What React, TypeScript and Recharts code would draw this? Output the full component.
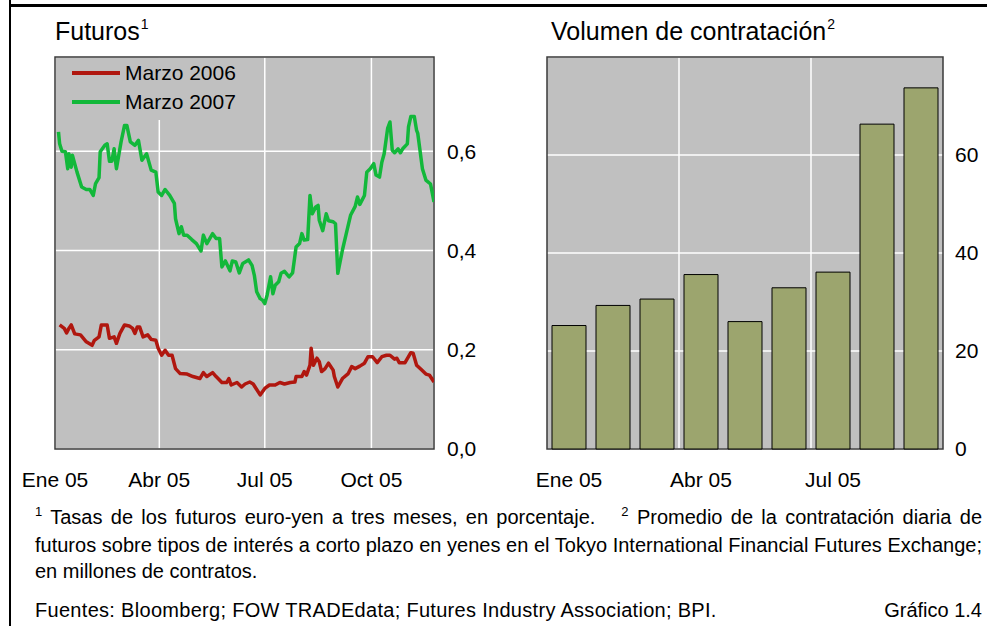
import {
  Bar,
  BarChart,
  CartesianGrid,
  Legend,
  Line,
  LineChart,
  ReferenceArea,
  XAxis,
  YAxis,
} from "recharts";

const FONT = '"Liberation Sans", Arial, Helvetica, sans-serif';
const PLOT_BG = "#c0c0c0";
const FRAME = "#3a3a3a";
const RED = "#b0170f";
const GREEN = "#12b83a";
const BAR_FILL = "#9ca56e";

// ---------------------------------------------------------------------------
// Futuros: tasas euro-yen a tres meses (x = días desde el 1 ene 2005)
// ---------------------------------------------------------------------------

const marzo2006Dias = [
  4, 8, 10, 12, 14, 17, 22, 27, 32, 34, 38, 40, 45, 47, 51, 53, 56, 60, 64, 67,
  69, 71, 73, 76, 80, 83, 87, 89, 92, 95, 98, 101, 104, 108, 114, 119, 125, 128, 131, 136,
  139, 144, 148, 150, 152, 157, 161, 164, 168, 171, 177, 181, 185, 190, 194, 198, 203, 207, 208, 213,
  215, 217, 220, 221, 223, 226, 228, 230, 233, 236, 240, 241, 244, 248, 253, 256, 259, 263, 267, 270,
  274, 278, 282, 286, 289, 293, 295, 297, 302, 305, 307, 309, 312, 316, 320, 323, 327,
];
const marzo2006Tasas = [
  0.25, 0.243, 0.234, 0.243, 0.25, 0.232, 0.23, 0.216, 0.209, 0.219, 0.226, 0.25, 0.25, 0.223, 0.226, 0.213, 0.233, 0.25, 0.248, 0.243,
  0.233, 0.246, 0.246, 0.226, 0.23, 0.221, 0.219, 0.203, 0.189, 0.199, 0.189, 0.189, 0.162, 0.152, 0.151, 0.146, 0.142, 0.154, 0.146, 0.154,
  0.146, 0.134, 0.134, 0.142, 0.129, 0.134, 0.125, 0.131, 0.135, 0.131, 0.109, 0.122, 0.129, 0.129, 0.134, 0.131, 0.134, 0.135, 0.146, 0.146,
  0.156, 0.149, 0.169, 0.203, 0.169, 0.183, 0.176, 0.156, 0.162, 0.173, 0.159, 0.146, 0.125, 0.142, 0.152, 0.166, 0.162, 0.167, 0.173, 0.186,
  0.186, 0.174, 0.186, 0.189, 0.189, 0.181, 0.183, 0.174, 0.174, 0.186, 0.194, 0.193, 0.169, 0.16, 0.151, 0.149, 0.135,
];

const marzo2007Dias = [
  3, 4, 6, 9, 11, 12, 14, 15, 19, 23, 27, 30, 33, 35, 38, 39, 43, 45, 47, 49,
  51, 53, 57, 60, 62, 65, 69, 72, 75, 79, 83, 87, 89, 92, 95, 99, 103, 104, 107, 109,
  111, 114, 118, 122, 126, 128, 131, 136, 139, 142, 144, 147, 151, 153, 156, 159, 162, 167, 170, 172,
  174, 177, 179, 181, 183, 186, 188, 190, 193, 195, 198, 202, 205, 208, 211, 213, 215, 218, 220, 222,
  225, 227, 228, 231, 234, 236, 240, 242, 244, 248, 251, 255, 259, 261, 263, 267, 269, 272, 275, 277,
  280, 282, 284, 287, 289, 291, 293, 296, 298, 300, 304, 305, 307, 310, 312, 313, 317, 320, 324, 327,
];
const marzo2007Tasas = [
  0.639, 0.615, 0.6, 0.599, 0.565, 0.595, 0.568, 0.592, 0.558, 0.528, 0.523, 0.523, 0.511, 0.535, 0.547, 0.599, 0.612, 0.615, 0.58, 0.58,
  0.605, 0.565, 0.619, 0.652, 0.652, 0.619, 0.612, 0.622, 0.582, 0.595, 0.562, 0.558, 0.518, 0.511, 0.523, 0.511, 0.495, 0.464, 0.434, 0.448,
  0.431, 0.431, 0.422, 0.414, 0.399, 0.431, 0.414, 0.434, 0.424, 0.424, 0.367, 0.379, 0.359, 0.379, 0.377, 0.355, 0.374, 0.381, 0.37, 0.35,
  0.317, 0.303, 0.3, 0.293, 0.31, 0.347, 0.313, 0.33, 0.337, 0.354, 0.358, 0.347, 0.355, 0.407, 0.414, 0.434, 0.421, 0.422, 0.511, 0.474,
  0.488, 0.491, 0.461, 0.44, 0.474, 0.46, 0.458, 0.454, 0.354, 0.401, 0.431, 0.471, 0.489, 0.508, 0.493, 0.511, 0.558, 0.565, 0.575, 0.552,
  0.548, 0.578, 0.595, 0.646, 0.659, 0.602, 0.597, 0.605, 0.597, 0.605, 0.615, 0.649, 0.67, 0.67, 0.642, 0.636, 0.565, 0.542, 0.534, 0.498,
];

const futurosXTicks = [0, 90, 181, 273];
const futurosXLabels = ["Ene 05", "Abr 05", "Jul 05", "Oct 05"];
const futurosYTicks = [0, 0.2, 0.4, 0.6];
const futurosXMax = 327;
const futurosYMax = 0.79;

// ---------------------------------------------------------------------------
// Volumen de contratación (millones de contratos, media diaria mensual)
// ---------------------------------------------------------------------------

const meses = ["Ene 05", "Feb 05", "Mar 05", "Abr 05", "May 05", "Jun 05", "Jul 05", "Ago 05", "Sep 05"];
const volumen = [25.2, 29.3, 30.6, 35.6, 26.0, 32.9, 36.1, 66.3, 73.7];
const volumenXTicks = [0.5, 3.5, 6.5];
const volumenGridX = [3, 6];
const volumenYTicks = [0, 20, 40, 60];
const volumenYMax = 80;

const serie2006 = marzo2006Dias.map((d, i) => ({ dia: d, tasa: marzo2006Tasas[i] }));
const serie2007 = marzo2007Dias.map((d, i) => ({ dia: d, tasa: marzo2007Tasas[i] }));
const volumenRows = meses.map((m, i) => ({ mes: i + 0.5, nombre: m, volumen: volumen[i] }));

const tickStyle = { fill: "#000", fontSize: 21, fontFamily: FONT };

function LeyendaFuturos({ payload }: any) {
  return (
    <div style={{ width: 200, height: 62, background: PLOT_BG, fontFamily: FONT }}>
      {(payload ?? []).map((e: any) => (
        <div key={e.value} style={{ display: "flex", alignItems: "center", height: 29 }}>
          <span style={{ display: "inline-block", marginLeft: 16, width: 48, height: 4, background: e.color }} />
          <span style={{ marginLeft: 5, fontSize: 21, lineHeight: "29px", color: "#000" }}>{e.value}</span>
        </div>
      ))}
    </div>
  );
}

function Titulo({ left, text, nota }: { left: number; text: string; nota: string }) {
  return (
    <div style={{ position: "absolute", left, top: 19, fontSize: 25, lineHeight: "25px", whiteSpace: "nowrap" }}>
      {text}
      <span style={{ fontSize: 14, position: "relative", top: -11, marginLeft: 1 }}>{nota}</span>
    </div>
  );
}

export default function App() {
  const sup = { fontSize: 13, position: "relative" as const, top: -8 };
  const line = {
    position: "absolute" as const,
    left: 35,
    width: 947,
    fontSize: 20,
    lineHeight: "26px",
    whiteSpace: "nowrap" as const,
  };

  return (
    <div
      style={{
        position: "absolute",
        left: 0,
        top: 0,
        width: 987,
        height: 626,
        background: "#fff",
        overflow: "hidden",
        fontFamily: FONT,
        color: "#000",
      }}
    >
      <div style={{ position: "absolute", left: 9, top: 0, width: 2, height: 626, background: "#000" }} />
      <div style={{ position: "absolute", left: 9, top: 4, width: 978, height: 3, background: "#000" }} />

      <Titulo left={55} text="Futuros" nota="1" />
      <Titulo left={551} text="Volumen de contratación" nota="2" />

      <div style={{ position: "absolute", left: 0, top: 0 }}>
        <LineChart width={520} height={520} margin={{ top: 57, left: 55, right: 26, bottom: 31 }}>
          <CartesianGrid fill={PLOT_BG} fillOpacity={1} stroke="#fff" strokeWidth={1.5} />
          <XAxis
            dataKey="dia"
            type="number"
            domain={[0, futurosXMax]}
            ticks={futurosXTicks}
            interval={0}
            tickFormatter={(v: number) => futurosXLabels[futurosXTicks.indexOf(v)] ?? ""}
            axisLine={false}
            tickLine={false}
            tickSize={0}
            tickMargin={23}
            height={40}
            tick={tickStyle}
            allowDataOverflow
          />
          <YAxis
            orientation="right"
            type="number"
            domain={[0, futurosYMax]}
            ticks={futurosYTicks}
            interval={0}
            tickFormatter={(v: number) => v.toFixed(1).replace(".", ",")}
            axisLine={false}
            tickLine={false}
            tickSize={0}
            tickMargin={13}
            width={60}
            tick={tickStyle}
            allowDataOverflow
          />
          <Legend
            layout="vertical"
            align="center"
            verticalAlign="middle"
            content={LeyendaFuturos}
            wrapperStyle={{ left: 56, top: 58, width: 200, height: 62 }}
          />
          <Line
            data={serie2006}
            dataKey="tasa"
            name="Marzo 2006"
            type="linear"
            stroke={RED}
            strokeWidth={3.5}
            strokeLinejoin="round"
            dot={false}
            activeDot={false}
            isAnimationActive={false}
          />
          <Line
            data={serie2007}
            dataKey="tasa"
            name="Marzo 2007"
            type="linear"
            stroke={GREEN}
            strokeWidth={3.5}
            strokeLinejoin="round"
            dot={false}
            activeDot={false}
            isAnimationActive={false}
          />
          <ReferenceArea x1={0} x2={futurosXMax} y1={0} y2={futurosYMax} fill="none" stroke={FRAME} strokeWidth={1.5} />
        </LineChart>
      </div>

      <div style={{ position: "absolute", left: 500, top: 0 }}>
        <BarChart width={487} height={520} data={volumenRows} margin={{ top: 57, left: 47, right: 4, bottom: 31 }}>
          <CartesianGrid
            fill={PLOT_BG}
            fillOpacity={1}
            stroke="#fff"
            strokeWidth={1.5}
            verticalValues={volumenGridX}
          />
          <XAxis
            dataKey="mes"
            type="number"
            domain={[0, meses.length]}
            ticks={volumenXTicks}
            interval={0}
            tickFormatter={(v: number) => meses[Math.floor(v)]}
            axisLine={false}
            tickLine={false}
            tickSize={0}
            tickMargin={23}
            height={40}
            tick={tickStyle}
          />
          <YAxis
            orientation="right"
            type="number"
            domain={[0, volumenYMax]}
            ticks={volumenYTicks}
            interval={0}
            axisLine={false}
            tickLine={false}
            tickSize={0}
            tickMargin={12}
            width={40}
            tick={tickStyle}
          />
          <Bar dataKey="volumen" barSize={34} fill={BAR_FILL} stroke="#000" strokeWidth={1} isAnimationActive={false} />
          <ReferenceArea x1={0} x2={meses.length} y1={0} y2={volumenYMax} fill="none" stroke={FRAME} strokeWidth={1.5} />
        </BarChart>
      </div>

      <div style={{ ...line, top: 504, textAlign: "justify", textAlignLast: "justify" }}>
        <span style={sup}>1</span> Tasas de los futuros euro-yen a tres meses, en porcentaje.
        <span style={{ display: "inline-block", width: 26 }} />
        <span style={sup}>2</span> Promedio de la contratación diaria de
      </div>
      <div style={{ ...line, top: 532, textAlign: "justify", textAlignLast: "justify" }}>
        futuros sobre tipos de interés a corto plazo en yenes en el Tokyo International Financial Futures Exchange;
      </div>
      <div style={{ ...line, top: 558 }}>en millones de contratos.</div>
      <div style={{ ...line, top: 597, letterSpacing: 0.3 }}>
        Fuentes: Bloomberg; FOW TRADEdata; Futures Industry Association; BPI.
      </div>
      <div style={{ position: "absolute", right: 5, top: 597, fontSize: 20, lineHeight: "26px" }}>Gráfico 1.4</div>
    </div>
  );
}
